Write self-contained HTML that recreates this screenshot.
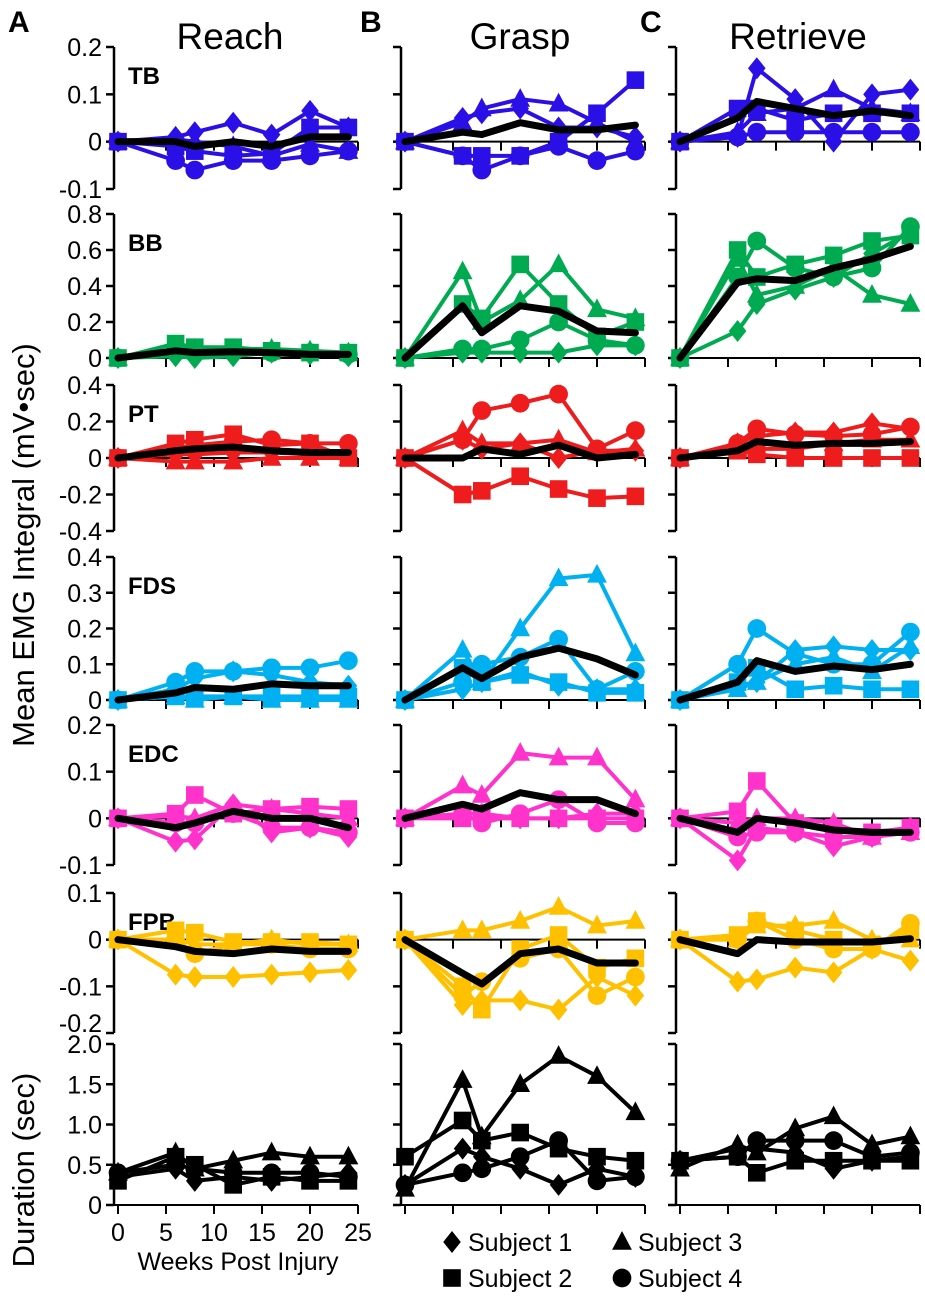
<!DOCTYPE html>
<html><head><meta charset="utf-8"><style>
body{margin:0;background:#fff;}
svg{display:block;font-family:"Liberation Sans Narrow","Liberation Sans",sans-serif;}
</style></head><body>
<svg id="chart" width="925" height="1296" viewBox="0 0 925 1296" xmlns="http://www.w3.org/2000/svg">
<g id="static">
<text x="8" y="32" font-size="30" font-weight="bold" font-family="Liberation Sans, sans-serif">A</text>
<text x="360" y="32" font-size="30" font-weight="bold" font-family="Liberation Sans, sans-serif">B</text>
<text x="640" y="32" font-size="30" font-weight="bold" font-family="Liberation Sans, sans-serif">C</text>
<text x="230" y="49" font-size="37" text-anchor="middle">Reach</text>
<text x="520" y="49" font-size="37" text-anchor="middle">Grasp</text>
<text x="798" y="49" font-size="37" text-anchor="middle">Retrieve</text>
<text transform="translate(34,545) rotate(-90)" font-size="31" text-anchor="middle">Mean EMG Integral (mV•sec)</text>
<text transform="translate(34,1170) rotate(-90)" font-size="31" text-anchor="middle">Duration (sec)</text>
<text x="238" y="1270" font-size="25" text-anchor="middle">Weeks Post Injury</text>
</g>
</svg>
<script>
const weeks = [0, 6, 8, 12, 16, 20, 24];
const xTicks = [0, 5, 10, 15, 20, 25];
const columns = ["reach", "grasp", "retrieve"];
const muscles = ["TB", "BB", "PT", "FDS", "EDC", "FPB", "Duration"];
const rowColors = ["#2a10e6", "#00aa50", "#ee1c1c", "#00b0f0", "#ff33cc", "#ffc000", "#000000"];
const yMin = [-0.1, 0, -0.4, 0, -0.1, -0.2, 0];
const yMax = [0.2, 0.8, 0.4, 0.4, 0.2, 0.1, 2.0];
const yStep = [0.1, 0.2, 0.2, 0.1, 0.1, 0.1, 0.5];
const yTickLabels = [["-0.1","0","0.1","0.2"],["0","0.2","0.4","0.6","0.8"],["-0.4","-0.2","0","0.2","0.4"],["0","0.1","0.2","0.3","0.4"],["-0.1","0","0.1","0.2"],["-0.2","-0.1","0","0.1"],["0","0.5","1.0","1.5","2.0"]];

// values [subject1, subject2, subject3, subject4, mean] per row & column
const TB_reach = [[0,0.01,0.02,0.04,0.015,0.065,0.03],[0,-0.01,-0.02,-0.03,-0.025,0.03,0.03],[0,0.005,0,-0.01,-0.03,-0.005,-0.02],[0,-0.04,-0.06,-0.04,-0.04,-0.03,-0.02],[0,0,-0.01,0,-0.01,0.01,0.01]];
const TB_grasp = [[0,0.05,0.06,0.07,0.03,0.03,0.01],[0,-0.03,-0.03,-0.03,0,0.06,0.13],[0,0.04,0.07,0.09,0.08,0.04,0],[0,-0.03,-0.06,-0.03,-0.01,-0.04,-0.02],[0,0.02,0.015,0.04,0.025,0.025,0.035]];
const TB_retrieve = [[0,0.01,0.155,0.09,0,0.1,0.11],[0,0.07,0.07,0.045,0.06,0.06,0.06],[0,0.02,0.06,0.07,0.11,0.07,0.06],[0,0.01,0.02,0.02,0.02,0.02,0.02],[0,0.05,0.085,0.07,0.055,0.065,0.055]];
const BB_reach = [[0,0.01,0,0.01,0.03,0.02,0.01],[0,0.08,0.06,0.06,0.04,0.03,0.03],[0,0.05,0.05,0.05,0.05,0.04,0.03],[0,0.05,0.04,0.05,0.03,0.03,0.02],[0,0.04,0.03,0.035,0.03,0.02,0.02]];
const BB_grasp = [[0,0.03,0.03,0.03,0.03,0.07,0.07],[0,0.3,0.22,0.52,0.3,0.12,0.2],[0,0.48,0.2,0.32,0.52,0.27,0.22],[0,0.05,0.05,0.1,0.2,0.1,0.07],[0,0.29,0.14,0.29,0.26,0.15,0.14]];
const BB_retrieve = [[0,0.15,0.3,0.38,0.45,0.58,0.7],[0,0.6,0.45,0.52,0.57,0.65,0.68],[0,0.55,0.35,0.4,0.5,0.35,0.3],[0,0.45,0.65,0.5,0.45,0.5,0.73],[0,0.42,0.44,0.43,0.5,0.55,0.62]];
const PT_reach = [[0,0.02,0.02,0.03,0.03,0.02,0.02],[0,0.08,0.1,0.13,0.07,0.08,0],[0,-0.02,-0.02,-0.02,0,0,0],[0,0.05,0.07,0.09,0.1,0.08,0.08],[0,0.04,0.05,0.06,0.04,0.03,0.03]];
const PT_grasp = [[0,0.1,0.05,0.08,0,0.04,0.04],[0,-0.2,-0.18,-0.1,-0.17,-0.22,-0.21],[0,0.15,0.08,0.08,0.1,0.03,0.05],[0,0.1,0.26,0.3,0.35,0.05,0.15],[0,0,0.05,0.02,0.07,0,0.02]];
const PT_retrieve = [[0,0.08,0.12,0.14,0.14,0.19,0.16],[0,0.04,0.02,0,0,0,0],[0,0.05,0.05,0.05,0.08,0.1,0.1],[0,0.08,0.16,0.13,0.12,0.13,0.17],[0,0.04,0.09,0.07,0.08,0.08,0.09]];
const FDS_reach = [[0,0.03,0.06,0.08,0.07,0.05,0.04],[0,0.01,0.01,0.01,0.01,0.01,0.01],[0,0.01,0,0.01,0,0,0],[0,0.05,0.08,0.08,0.09,0.09,0.11],[0,0.02,0.035,0.03,0.045,0.04,0.04]];
const FDS_grasp = [[0,0.03,0.05,0.08,0.04,0.03,0.03],[0,0.09,0.05,0.07,0.05,0.02,0.02],[0,0.14,0.05,0.2,0.34,0.35,0.13],[0,0.05,0.1,0.12,0.17,0.03,0.08],[0,0.09,0.06,0.12,0.145,0.115,0.07]];
const FDS_retrieve = [[0,0.04,0.05,0.14,0.15,0.14,0.14],[0,0.05,0.09,0.03,0.04,0.03,0.03],[0,0.03,0.05,0.1,0.12,0.08,0.15],[0,0.1,0.2,0.13,0.1,0.1,0.19],[0,0.05,0.11,0.08,0.095,0.085,0.1]];
const EDC_reach = [[0,-0.05,-0.045,0.03,-0.03,-0.02,-0.04],[0,0.01,0.05,0.01,0.02,0.025,0.02],[0,0.005,0,0.03,0.02,0.01,0],[0,-0.01,-0.01,0.01,-0.02,-0.02,-0.03],[0,-0.02,-0.01,0.015,0,0,-0.02]];
const EDC_grasp = [[0,0.01,0.01,0,0,0.01,0.01],[0,0,0,0,0,0,0],[0,0.07,0.05,0.14,0.13,0.13,0.04],[0,0.01,-0.01,0.01,0.04,-0.01,-0.01],[0,0.03,0.02,0.055,0.04,0.04,0.01]];
const EDC_retrieve = [[0,-0.09,-0.02,-0.03,-0.06,-0.04,-0.02],[0,0.015,0.08,-0.01,-0.02,-0.03,-0.02],[0,-0.01,0,0,-0.01,-0.04,-0.03],[0,-0.04,-0.03,-0.03,-0.04,-0.04,-0.03],[0,-0.03,0,-0.01,-0.025,-0.03,-0.03]];
const FPB_reach = [[0,-0.075,-0.08,-0.08,-0.075,-0.07,-0.065],[0,0.02,0.015,-0.005,-0.005,-0.005,-0.01],[0,0,-0.01,-0.01,0,-0.01,-0.01],[0,0,-0.03,-0.01,-0.01,-0.02,-0.02],[0,-0.015,-0.025,-0.03,-0.02,-0.025,-0.025]];
const FPB_grasp = [[0,-0.14,-0.13,-0.13,-0.15,-0.08,-0.12],[0,-0.1,-0.15,-0.02,0.01,-0.06,-0.04],[0,0.02,0.02,0.04,0.07,0.03,0.04],[0,-0.12,-0.09,-0.04,-0.02,-0.12,-0.08],[0,-0.072,-0.095,-0.03,-0.02,-0.05,-0.05]];
const FPB_retrieve = [[0,-0.09,-0.085,-0.06,-0.07,-0.02,-0.045],[0,0.01,0.04,0.02,0,-0.01,0.02],[0,0,0.03,0.03,0.04,0,0],[0,0,0.04,0,-0.02,-0.02,0.035],[0,-0.03,0,-0.005,-0.005,-0.005,0.002]];
const DUR_reach = [[0.35,0.45,0.3,0.35,0.3,0.35,0.4],[0.3,0.6,0.5,0.25,0.35,0.3,0.3],[0.4,0.65,0.45,0.55,0.65,0.6,0.6],[0.4,0.5,0.45,0.4,0.4,0.4,0.35]];
const DUR_grasp = [[0.25,0.7,0.6,0.45,0.25,0.45,0.35],[0.6,1.05,0.8,0.9,0.7,0.6,0.55],[0.2,1.55,0.85,1.5,1.85,1.6,1.15],[0.25,0.4,0.45,0.6,0.8,0.3,0.35]];
const DUR_retrieve = [[0.55,0.7,0.7,0.65,0.45,0.55,0.6],[0.55,0.6,0.4,0.55,0.55,0.55,0.55],[0.45,0.75,0.65,0.95,1.1,0.75,0.85],[0.55,0.6,0.8,0.8,0.8,0.6,0.65]];
const panelData = [[TB_reach,TB_grasp,TB_retrieve],[BB_reach,BB_grasp,BB_retrieve],[PT_reach,PT_grasp,PT_retrieve],[FDS_reach,FDS_grasp,FDS_retrieve],[EDC_reach,EDC_grasp,EDC_retrieve],[FPB_reach,FPB_grasp,FPB_retrieve],[DUR_reach,DUR_grasp,DUR_retrieve]];
const legendLabels = ["Subject 1", "Subject 2", "Subject 3", "Subject 4"];

const NS = "http://www.w3.org/2000/svg";
const svg = document.getElementById("chart");
const colX0 = [118, 405, 680];
const pxPerWeek = 9.6;
const rowTop = [47, 214, 385, 557, 725, 893, 1044];
const rowBottom = [189, 358, 531, 700, 865, 1033, 1205];
function mk(tag, attrs, parent) {
  const e = document.createElementNS(NS, tag);
  for (const k in attrs) e.setAttribute(k, attrs[k]);
  (parent || svg).appendChild(e);
  return e;
}
function xScale(c, w) { return colX0[c] + w * pxPerWeek; }
function yScale(r, v) { return rowBottom[r] - (v - yMin[r]) / (yMax[r] - yMin[r]) * (rowBottom[r] - rowTop[r]); }
function marker(type, x, y, color, parent, s) {
  let e;
  if (type === 0) e = mk("polygon", {points: `${x},${y-s} ${x+s*0.8},${y} ${x},${y+s} ${x-s*0.8},${y}`, fill: color}, parent);
  else if (type === 1) e = mk("rect", {x: x-s*0.8, y: y-s*0.8, width: s*1.6, height: s*1.6, fill: color}, parent);
  else if (type === 2) e = mk("polygon", {points: `${x},${y-s} ${x+s*0.9},${y+s*0.7} ${x-s*0.9},${y+s*0.7}`, fill: color}, parent);
  else e = mk("circle", {cx: x, cy: y, r: s*0.85, fill: color}, parent);
  return e;
}
const mNames = ["diamond", "square", "triangle", "circle"];
for (let r = 0; r < muscles.length; r++) {
  for (let c = 0; c < 3; c++) {
    const g = mk("g", {});
    
    
    const ax = colX0[c] - 4;
    const yl = mk("line", {x1: ax, x2: ax, y1: rowTop[r], y2: rowBottom[r], stroke: "#000", "stroke-width": 2.5}, g);
    
    
    const nT = Math.round((yMax[r] - yMin[r]) / yStep[r]);
    for (let i = 0; i <= nT; i++) {
      const v = yMin[r] + i * yStep[r];
      const y = yScale(r, v);
      const t = mk("line", {x1: ax - 8, x2: ax, y1: y, y2: y, stroke: "#000", "stroke-width": 2.5}, g);
      
      
      if (c === 0) {
        let ly = y + 9;
        if (r === 5 && i === 0) ly -= 10;
        const lb = mk("text", {x: ax - 12, y: ly, "font-size": 25, "text-anchor": "end"}, g);
        lb.textContent = yTickLabels[r][i];
        
        
      }
    }
    const y0 = yScale(r, 0);
    const xl = mk("line", {x1: ax, x2: xScale(c, 25), y1: y0, y2: y0, stroke: "#000", "stroke-width": 2}, g);
    
    
    for (const w of xTicks) {
      const xt = mk("line", {x1: xScale(c, w), x2: xScale(c, w), y1: y0, y2: y0 + 9, stroke: "#000", "stroke-width": 2}, g);
      
      
      if (r === 6 && c === 0) {
        const lb = mk("text", {x: xScale(c, w), y: y0 + 36, "font-size": 25, "text-anchor": "middle"}, g);
        lb.textContent = w;
        
        
      }
    }
    if (c === 0 && r < 6) {
      const ml = mk("text", {x: 128, y: rowTop[r] + 37, "font-size": 24, "font-weight": "bold"}, g);
      ml.textContent = muscles[r];
      
      
    }
    const series = panelData[r][c];
    const col = rowColors[r];
    for (let s = 0; s < 4; s++) {
      const vals = series[s];
      const pts = vals.map((v, i) => xScale(c, weeks[i]) + "," + yScale(r, v)).join(" ");
      const pl = mk("polyline", {points: pts, fill: "none", stroke: col, "stroke-width": 4, "stroke-linejoin": "round"}, g);
      
      
      vals.forEach((v, i) => {
        const m = marker(s, xScale(c, weeks[i]), yScale(r, v), col, g, 11);
        
        
      });
    }
    if (series.length > 4) {
      const pts = series[4].map((v, i) => xScale(c, weeks[i]) + "," + yScale(r, v)).join(" ");
      const ml = mk("polyline", {points: pts, fill: "none", stroke: "#000", "stroke-width": 7, "stroke-linejoin": "round", "stroke-linecap": "round"}, g);
      
      
    }
  }
}
const legPos = [[452, 1242], [452, 1278], [622, 1242], [622, 1278]];
for (let s = 0; s < 4; s++) {
  const lg = mk("g", {});
  
  
  marker(s, legPos[s][0], legPos[s][1], "#000", lg, 11);
  const t = mk("text", {x: legPos[s][0] + 16, y: legPos[s][1] + 9, "font-size": 25}, lg);
  t.textContent = legendLabels[s];
}
</script>
</body></html>
